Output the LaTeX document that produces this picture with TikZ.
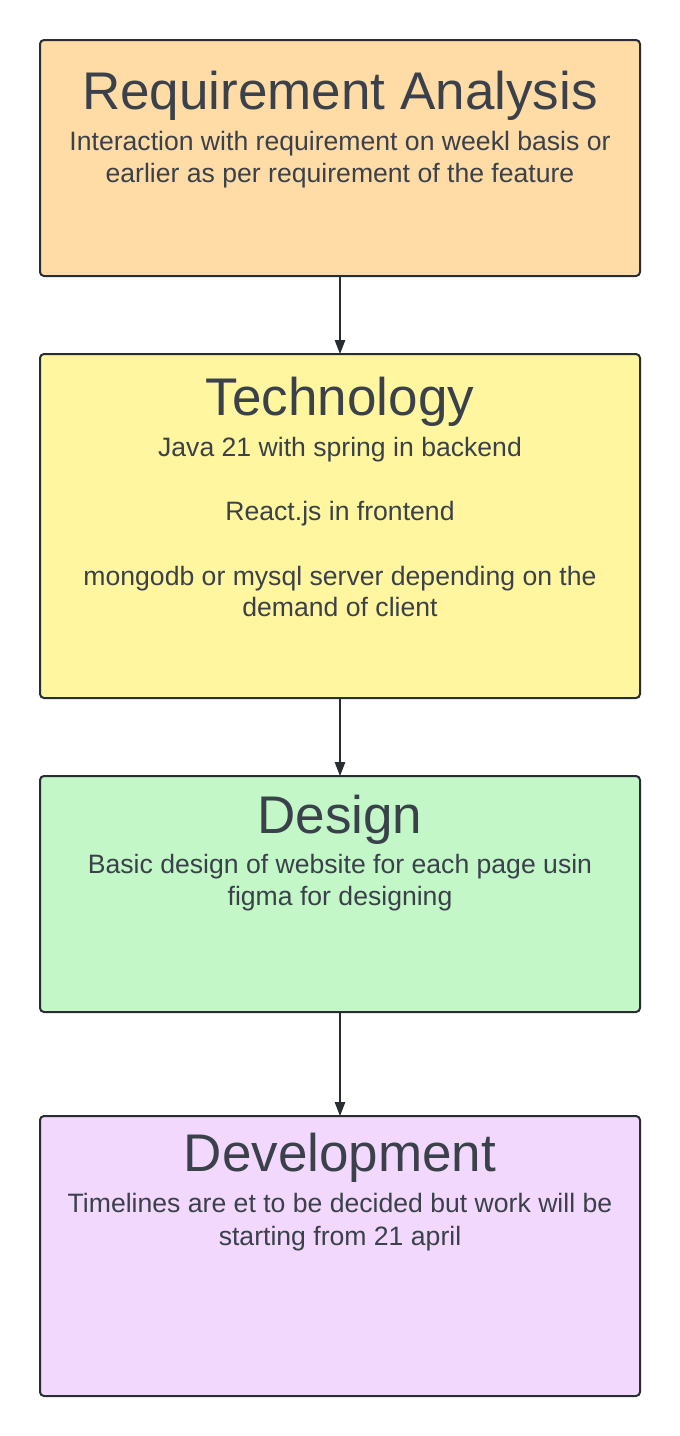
\documentclass[tikz,border=0pt]{standalone}
\usepackage{fontspec}
\setmainfont{Liberation Sans}
\usetikzlibrary{arrows.meta}
\definecolor{txt}{HTML}{3A414A}
\definecolor{bord}{HTML}{282C33}
\definecolor{orangefill}{HTML}{FFDBA6}
\definecolor{yellowfill}{HTML}{FFF69F}
\definecolor{greenfill}{HTML}{C3F7C8}
\definecolor{purplefill}{HTML}{F2D8FC}
\tikzset{
  box/.style={draw=bord, line width=2pt, rounded corners=4pt},
  title/.style={anchor=base, text=txt, font=\fontsize{53}{60}\selectfont, inner sep=0pt},
  body/.style={anchor=base, text=txt, font=\fontsize{26.6}{32}\selectfont, inner sep=0pt},
  conn/.style={draw=bord, line width=1.3pt, -{Triangle[length=14pt,width=10.5pt]}, shorten >=0pt}
}
\begin{document}
\begin{tikzpicture}[x=1pt,y=-1pt]
\useasboundingbox (0,0) rectangle (680,1436);
% boxes
\filldraw[box, fill=orangefill] (40,40) rectangle (640,276);
\filldraw[box, fill=yellowfill] (40,354) rectangle (640,698);
\filldraw[box, fill=greenfill] (40,776) rectangle (640,1012);
\filldraw[box, fill=purplefill] (40,1116) rectangle (640,1396);
\coordinate (b1s) at (340,276);
\coordinate (b2n) at (340,354);
\coordinate (b2s) at (340,698);
\coordinate (b3n) at (340,776);
\coordinate (b3s) at (340,1012);
\coordinate (b4n) at (340,1116);
% box 1
\node[title] (t1) at (340,109) {Requirement Analysis};
\node[body] (l1a) at (340,150) {Interaction with requirement on weekl basis or};
\node[body] (l1b) at (340,182) {earlier as per requirement of the feature};
% box 2
\node[title] (t2) at (340,415) {Technology};
\node[body] (l2a) at (340,456) {Java 21 with spring in backend};
\node[body] (l2b) at (340,520) {React.js in frontend};
\node[body] (l2c) at (340,585) {mongodb or mysql server depending on the};
\node[body] (l2d) at (340,616) {demand of client};
% box 3
\node[title] (t3) at (340,833) {Design};
\node[body] (l3a) at (340,873) {Basic design of website for each page usin};
\node[body] (l3b) at (340,905) {figma for designing};
% box 4
\node[title] (t4) at (340,1171) {Development};
\node[body] (l4a) at (340,1212) {Timelines are et to be decided but work will be};
\node[body] (l4b) at (340,1245) {starting from 21 april};
% connectors
\draw[conn] (b1s) -- (b2n);
\draw[conn] (b2s) -- (b3n);
\draw[conn] (b3s) -- (b4n);
\end{tikzpicture}
\end{document}
